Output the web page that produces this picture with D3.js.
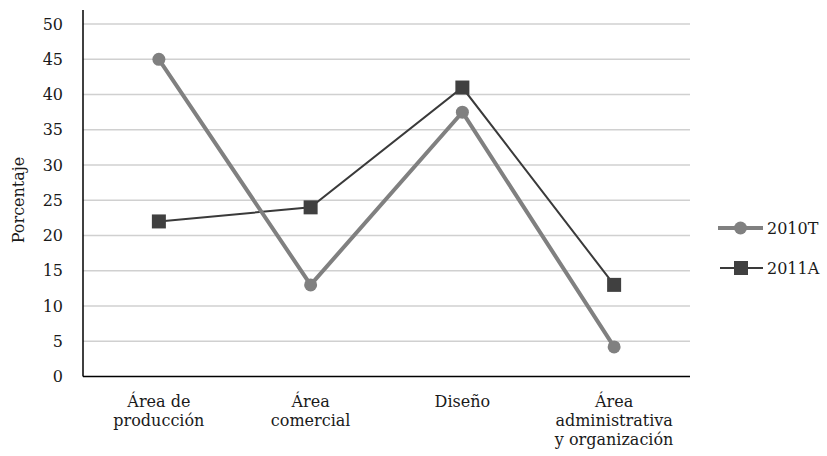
<!DOCTYPE html>
<html><head><meta charset="utf-8">
<script src="https://cdn.jsdelivr.net/npm/d3@7"></script>
<style>body{margin:0;background:#fff}svg{display:block}text{font-family:"DejaVu Serif",serif;fill:#1a1a1a}</style>
</head><body><svg id="c" width="827" height="456"></svg>
<script>
const categories = [["Área de","producción"],["Área","comercial"],["Diseño"],["Área","administrativa","y organización"]];
const series2010T = [45, 13, 37.5, 4.2];
const series2011A = [22, 24, 41, 13];
const yTicks = [0,5,10,15,20,25,30,35,40,45,50];
const seriesNames = ["2010T","2011A"];

const svg = d3.select("#c");
const x = d3.scaleBand().domain(d3.range(categories.length)).range([83, 690]);
const y = d3.scaleLinear().domain([0, 52]).range([376.5, 10]);
const cx = i => x(i) + x.bandwidth()/2;

// gridlines
svg.append("g").selectAll("line").data(yTicks.filter(d=>d>0)).join("line")
  .attr("x1", 83).attr("x2", 690).attr("y1", d=>y(d)).attr("y2", d=>y(d))
  .attr("stroke", "#d0d0d0").attr("stroke-width", 1.5);

// y axis
const yAxis = d3.axisLeft(y).tickValues(yTicks).tickSize(0).tickPadding(20);
const gy = svg.append("g").attr("transform","translate(83,0)").call(yAxis);
gy.select(".domain").remove();
gy.selectAll("text").style("font-size","16px").attr("fill","#1a1a1a").style("font-family",'"DejaVu Serif",serif');
svg.append("line").attr("x1",83).attr("x2",83).attr("y1",y(52)).attr("y2",y(0)).attr("stroke","#000").attr("stroke-width",1.5);
svg.append("line").attr("x1",83).attr("x2",690).attr("y1",y(0)).attr("y2",y(0)).attr("stroke","#000").attr("stroke-width",1.5);

// x labels
const gx = svg.append("g");
categories.forEach((lines,i)=>{
  lines.forEach((l,j)=>gx.append("text").attr("text-anchor","middle").attr("x",cx(i))
    .attr("y",407 + j*19).style("font-size","16px").text(l));
});

// y title
svg.append("text").attr("transform","translate(24,200) rotate(-90)").attr("text-anchor","middle").style("font-size","16px").text("Porcentaje");

const line = d3.line().x((d,i)=>cx(i)).y(d=>y(d));
svg.append("path").datum(series2011A).attr("d",line).attr("fill","none").attr("stroke","#3a3a3a").attr("stroke-width",2);
svg.append("path").datum(series2010T).attr("d",line).attr("fill","none").attr("stroke","#808080").attr("stroke-width",4).attr("stroke-linejoin","round");
svg.append("g").selectAll("rect").data(series2011A).join("rect")
  .attr("x",(d,i)=>cx(i)-7).attr("y",d=>y(d)-7).attr("width",14).attr("height",14).attr("fill","#404040");
svg.append("g").selectAll("circle").data(series2010T).join("circle")
  .attr("cx",(d,i)=>cx(i)).attr("cy",d=>y(d)).attr("r",6.5).attr("fill","#808080");

// legend
const lg = svg.append("g");
lg.append("line").attr("x1",718).attr("x2",763).attr("y1",228).attr("y2",228).attr("stroke","#808080").attr("stroke-width",4);
lg.append("circle").attr("cx",740.5).attr("cy",228).attr("r",6.5).attr("fill","#808080");
lg.append("text").attr("x",767).attr("y",228).attr("dy","0.35em").style("font-size","16px").text(seriesNames[0]);
lg.append("line").attr("x1",720).attr("x2",763).attr("y1",268).attr("y2",268).attr("stroke","#3a3a3a").attr("stroke-width",2);
lg.append("rect").attr("x",734).attr("y",261).attr("width",14).attr("height",14).attr("fill","#404040");
lg.append("text").attr("x",767).attr("y",268).attr("dy","0.35em").style("font-size","16px").text(seriesNames[1]);
</script></body></html>
